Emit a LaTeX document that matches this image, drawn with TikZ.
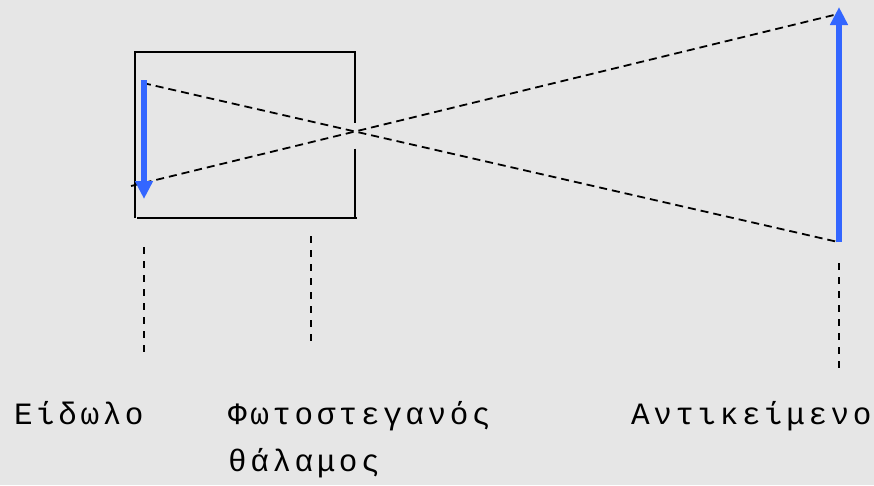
\documentclass[tikz,border=0pt]{standalone}
\usepackage{fontspec}
\usetikzlibrary{arrows.meta}
\newfontfamily\grmono[LetterSpace=11.5]{Liberation Mono}
\definecolor{bg}{RGB}{230,230,230}
\definecolor{rayblue}{RGB}{51,102,255}
\tikzset{
  boxline/.style={draw=black,line width=2pt},
  ray/.style={draw=black,line width=1.8pt,dash pattern=on 8pt off 5pt},
  guide/.style={draw=black,line width=2pt,dash pattern=on 7pt off 7pt},
  bluearrow/.style={draw=rayblue,line width=5.5pt,-{Triangle[width=17pt,length=18pt]}},
  lbl/.style={anchor=base west,inner sep=0pt,font=\grmono\fontsize{31}{47}\selectfont,align=left}
}
\begin{document}
\begin{tikzpicture}[x=1pt,y=-1pt]
\fill[bg] (0,0) rectangle (874,485);
\useasboundingbox (0,0) rectangle (874,485);
% box (camera obscura)
\coordinate (tl) at (135,52);
\coordinate (bl) at (135,218);
\coordinate (tr) at (355,52);
\coordinate (holeTop) at (355,122.5);
\coordinate (holeBot) at (355,148.5);
\coordinate (br) at (355,218);
\coordinate (bottomL) at (137,218);
\coordinate (bottomR) at (357,218);
\draw[boxline] (bl) -- (tl) -- (tr) -- (holeTop);
\draw[boxline] (holeBot) -- (br);
\draw[boxline] (bottomL) -- (bottomR);
% rays
\coordinate (r1s) at (143,83);
\coordinate (r1e) at (838,242);
\coordinate (r2s) at (131,186);
\coordinate (r2e) at (838,14);
\draw[ray] (r1s) -- (r1e);
\draw[ray] (r2s) -- (r2e);
% image and object arrows
\coordinate (imgTop) at (144,80);
\coordinate (imgTip) at (144,199);
\coordinate (objBot) at (839,242);
\coordinate (objTip) at (839,7);
\draw[bluearrow] (imgTop) -- (imgTip);
\draw[bluearrow] (objBot) -- (objTip);
% guide lines
\coordinate (g1a) at (144,247);
\coordinate (g1b) at (144,354);
\coordinate (g2a) at (311,236);
\coordinate (g2b) at (311,343);
\coordinate (g3a) at (839,263);
\coordinate (g3b) at (839,370);
\draw[guide] (g1a) -- (g1b);
\draw[guide] (g2a) -- (g2b);
\draw[guide] (g3a) -- (g3b);
% labels
\node[lbl] (eidolo) at (14,424) {Είδωλο};
\node[lbl] (thalamos) at (228,471) {Φωτοστεγανός\\θάλαμος};
\node[lbl] (antik) at (631,424) {Αντικείμενο};
\end{tikzpicture}
\end{document}
